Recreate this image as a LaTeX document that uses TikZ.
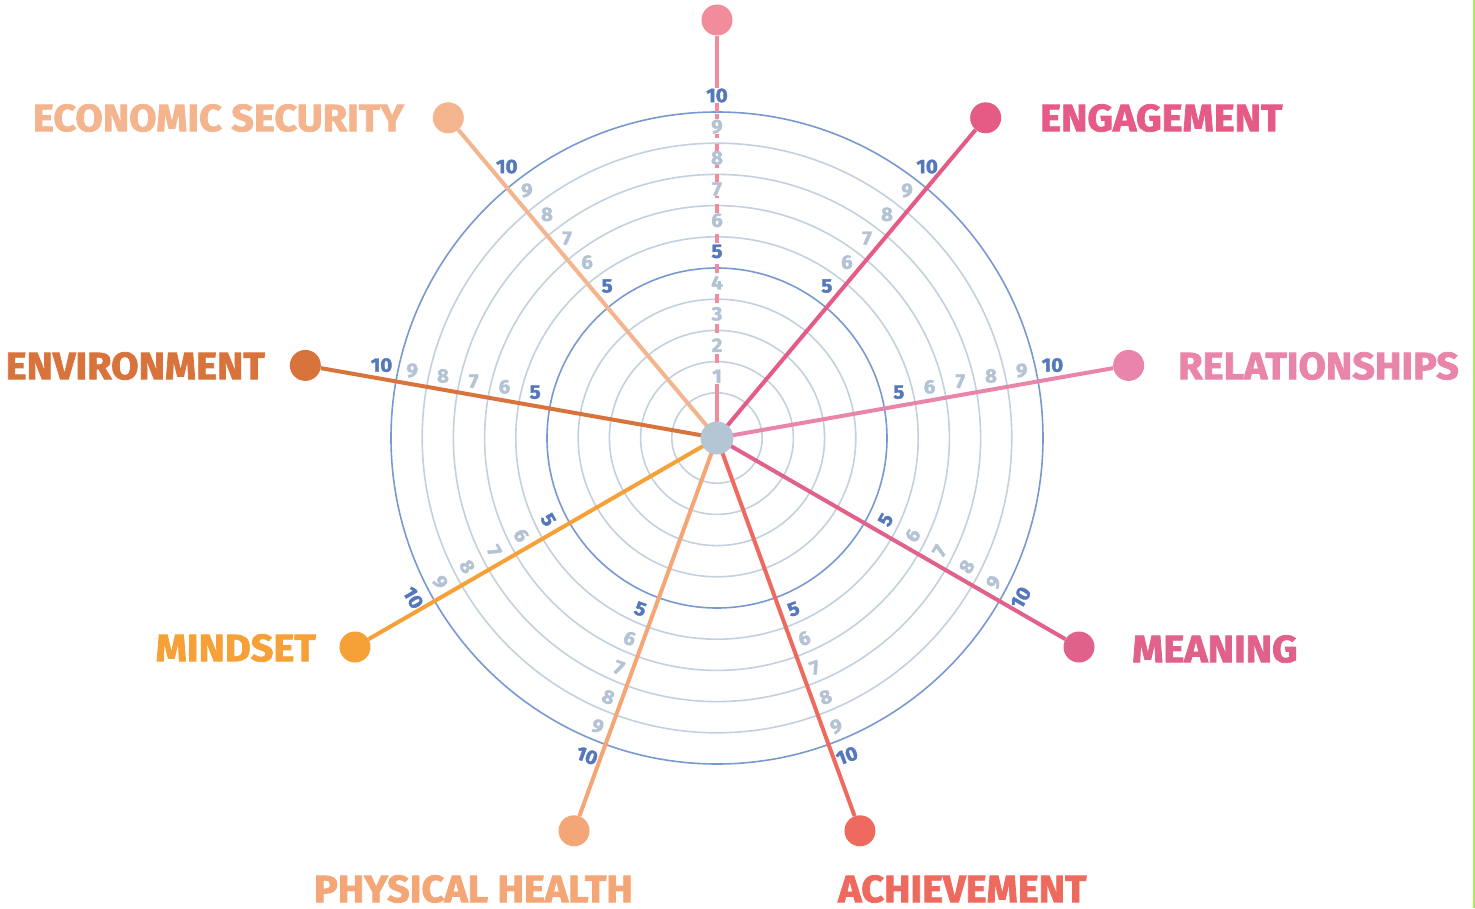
\documentclass[tikz,border=0pt]{standalone}
\usepackage{fontspec}
\setmainfont{Fira Sans}
\newfontfamily\heavy{Fira Sans}[FakeStretch=1.045, BoldFeatures={FakeBold=2}]
\newfontfamily\numfont{Fira Sans}[FakeStretch=1.05, BoldFeatures={FakeBold=2}]
\usetikzlibrary{calc}
\definecolor{ctop}{HTML}{F08C9B}
\definecolor{ceng}{HTML}{E55B85}
\definecolor{crel}{HTML}{E985AA}
\definecolor{cmea}{HTML}{E0628A}
\definecolor{cach}{HTML}{EE6A5F}
\definecolor{cphy}{HTML}{F4A676}
\definecolor{cmin}{HTML}{F6A137}
\definecolor{cenv}{HTML}{D8733C}
\definecolor{ceco}{HTML}{F3B48E}
\definecolor{hubcol}{HTML}{B4C5D4}
\definecolor{ringblue}{HTML}{7898D2}
\definecolor{ringlight}{HTML}{C3D0DE}
\definecolor{numblue}{HTML}{5578BA}
\definecolor{numgrey}{HTML}{B3C3D3}
\definecolor{edgegreen}{HTML}{A6F05A}
\begin{document}
\begin{tikzpicture}[x=1pt,y=1pt,
  ring/.style={draw=ringlight, line width=1.6pt},
  ringmajor/.style={draw=ringblue, line width=1.6pt},
  spoke/.style={line width=4pt},
  topspoke/.style={line width=3.2pt, draw=ctop},
  enddot/.style={circle, minimum size=31pt, inner sep=0pt},
  hub/.style={circle, fill=hubcol, minimum size=33pt, inner sep=0pt},
  lbl/.style={font=\fontsize{38}{38}\selectfont\heavy\bfseries, inner sep=0pt},
  num/.style={font=\fontsize{19.5}{19.5}\selectfont\numfont\bfseries, inner sep=0.5pt}]
\useasboundingbox (-717,-470) rectangle (758,438);
% rings
\foreach \k in {1,...,10}{
  \pgfmathsetmacro\rr{14+31.2*\k}
  \ifnum\k=5 \draw[ringmajor] (0,0) circle (\rr);
  \else\ifnum\k=10 \draw[ringmajor] (0,0) circle (\rr);
  \else \draw[ring] (0,0) circle (\rr);\fi\fi
}
\coordinate (c) at (0,0);
% end dots
\foreach \a/\cl/\n in {90/ctop/top, 50/ceng/eng, 10/crel/rel, -30/cmea/mea, -70/cach/ach, -110/cphy/phy, -150/cmin/min, 170/cenv/env, 130/ceco/eco}
  \node[enddot, fill=\cl] (\n) at (\a:418) {};
% spokes
\foreach \cl/\n in {ceng/eng, crel/rel, cmea/mea, cach/ach, cphy/phy, cmin/min, cenv/env, ceco/eco}
  \draw[spoke, draw=\cl] (c) -- (\n);
\coordinate (t1) at (90:45.2);
\coordinate (t10) at (90:326);
\draw[topspoke] (c) -- (t1);
\draw[topspoke, dash pattern=on 9pt off 6pt] (t1) -- (t10);
\draw[topspoke] (t10) -- (top);
\node[hub] (hub) at (c) {};
% numbers on top spoke
\foreach \k in {1,...,10}{
  \pgfmathsetmacro\rr{14+31.2*\k+16.5}
  \ifnum\k=5 \node[num, fill=white, text=numblue] (numtop\k) at (90:\rr) {\k};
  \else\ifnum\k=10 \node[num, fill=white, text=numblue] (numtop\k) at (90:\rr) {\k};
  \else \node[num, fill=white, text=numgrey] (numtop\k) at (90:\rr) {\k};\fi\fi
}
% numbers on other spokes
\foreach \a/\s/\rot/\n in {50/1/0/eng, 10/1/0/rel, -30/1/60/mea, -70/1/20/ach, -110/-1/-20/phy, -150/-1/-60/min, 170/-1/0/env, 130/-1/0/eco}{
  \pgfmathsetmacro\na{\a+90*\s}
  \foreach \k in {5,...,10}{
    \pgfmathsetmacro\rr{14+31.2*\k+17}
    \ifnum\k=5 \def\tc{numblue}\else\ifnum\k=10 \def\tc{numblue}\else\def\tc{numgrey}\fi\fi
    \node[num, rotate=\rot, text=\tc] (num\n\k) at ($(\a:\rr)+(\na:13.5)$) {\k};
  }
}
% category labels
\node[lbl, text=ceco, anchor=east] (ecoL) at (-313,320) {ECONOMIC SECURITY};
\node[lbl, text=ceng, anchor=west] (engL) at (323,320) {ENGAGEMENT};
\node[lbl, text=crel, anchor=west] (relL) at (461,72) {RELATIONSHIPS};
\node[lbl, text=cenv, anchor=east] (envL) at (-452,72) {ENVIRONMENT};
\node[lbl, text=cmin, anchor=east] (minL) at (-401,-210) {MINDSET};
\node[lbl, text=cmea, anchor=west] (meaL) at (415,-211) {MEANING};
\node[lbl, text=cphy, anchor=east] (phyL) at (-84,-451) {PHYSICAL HEALTH};
\node[lbl, text=cach, anchor=west] (achL) at (121,-451) {ACHIEVEMENT};
% right edge line
\coordinate (g1) at (757,438);
\coordinate (g2) at (757,-470);
\draw[edgegreen, line width=2pt] (g1) -- (g2);
\end{tikzpicture}
\end{document}
